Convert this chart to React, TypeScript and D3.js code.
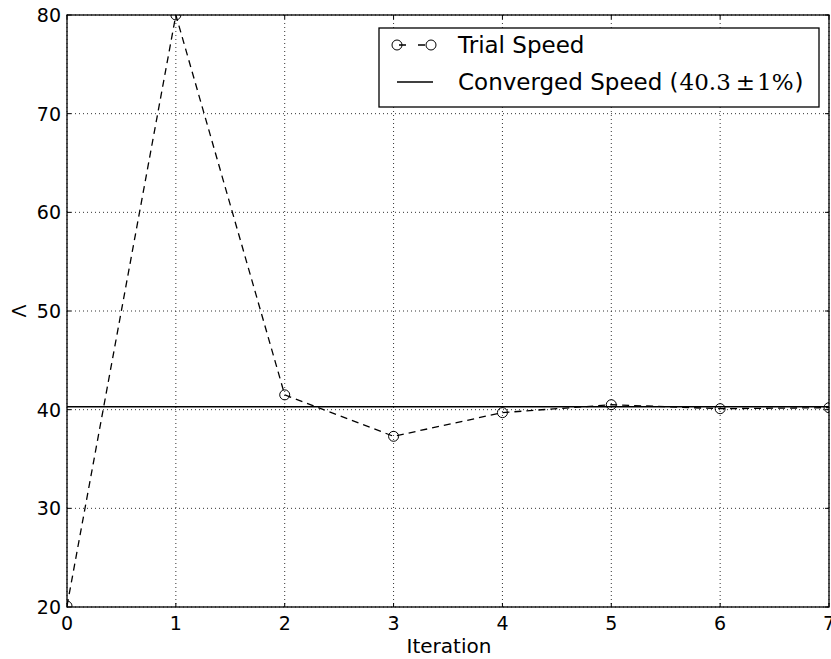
import React from "react";
import * as d3 from "d3";

const iterations = [0, 1, 2, 3, 4, 5, 6, 7];
const trialSpeed = [20.1, 80.0, 41.5, 37.3, 39.7, 40.5, 40.1, 40.2];
const convergedSpeed = 40.3;
const xTicks = [0, 1, 2, 3, 4, 5, 6, 7];
const yTicks = [20, 30, 40, 50, 60, 70, 80];

const W = 831;
const H = 659;
const M = { left: 67, right: 829, top: 15, bottom: 607 };

export default function App() {
  const x = d3.scaleLinear().domain([0, 7]).range([M.left, M.right]);
  const y = d3.scaleLinear().domain([20, 80]).range([M.bottom, M.top]);
  const line = d3
    .line<number>()
    .x((_, i) => x(iterations[i]))
    .y((d) => y(d));
  const font = "DejaVu Sans, sans-serif";
  const tickLen = 4;
  const lx = 379, ly = 28, lw = 440, lh = 79;

  return (
    <svg
      width={W}
      height={H}
      style={{ position: "absolute", left: 0, top: 0, background: "#fff" }}
      fontFamily={font}
    >
      <defs>
        <clipPath id="plot">
          <rect x={M.left} y={M.top} width={M.right - M.left} height={M.bottom - M.top} />
        </clipPath>
      </defs>
      <rect x={0} y={0} width={W} height={H} fill="#fff" />
      {/* grid */}
      <g stroke="#333" strokeWidth={1} strokeDasharray="1,3">
        {xTicks.map((t) => (
          <line key={"gx" + t} x1={x(t)} x2={x(t)} y1={M.top} y2={M.bottom} />
        ))}
        {yTicks.map((t) => (
          <line key={"gy" + t} x1={M.left} x2={M.right} y1={y(t)} y2={y(t)} />
        ))}
      </g>
      <g clipPath="url(#plot)">
        <line
          x1={M.left}
          x2={M.right}
          y1={y(convergedSpeed)}
          y2={y(convergedSpeed)}
          stroke="#000"
          strokeWidth={1.5}
        />
        <path
          d={line(trialSpeed) || ""}
          fill="none"
          stroke="#000"
          strokeWidth={1.3}
          strokeDasharray="7,5"
        />
        {trialSpeed.map((v, i) => (
          <circle
            key={i}
            cx={x(iterations[i])}
            cy={y(v)}
            r={5}
            fill="none"
            stroke="#000"
            strokeWidth={1}
          />
        ))}
      </g>
      {/* ticks */}
      <g stroke="#000" strokeWidth={1}>
        {xTicks.map((t) => (
          <g key={"tx" + t}>
            <line x1={x(t)} x2={x(t)} y1={M.bottom} y2={M.bottom - tickLen} />
            <line x1={x(t)} x2={x(t)} y1={M.top} y2={M.top + tickLen} />
          </g>
        ))}
        {yTicks.map((t) => (
          <g key={"ty" + t}>
            <line x1={M.left} x2={M.left + tickLen} y1={y(t)} y2={y(t)} />
            <line x1={M.right} x2={M.right - tickLen} y1={y(t)} y2={y(t)} />
          </g>
        ))}
      </g>
      <rect
        x={M.left}
        y={M.top}
        width={M.right - M.left}
        height={M.bottom - M.top}
        fill="none"
        stroke="#000"
        strokeWidth={1.3}
      />
      {/* tick labels */}
      {xTicks.map((t) => (
        <text key={"lx" + t} x={x(t)} y={M.bottom + 23} fontSize={19} textAnchor="middle">
          {t}
        </text>
      ))}
      {yTicks.map((t) => (
        <text key={"ly" + t} x={M.left - 6} y={y(t) + 7} fontSize={19} textAnchor="end">
          {t}
        </text>
      ))}
      <text x={449} y={653} fontSize={20} textAnchor="middle">
        Iteration
      </text>
      <text
        transform={`translate(26, ${(M.top + M.bottom) / 2}) rotate(-90)`}
        fontSize={19}
        textAnchor="middle"
      >
        Λ
      </text>
      {/* legend */}
      <rect x={lx} y={ly} width={lw} height={lh} fill="#fff" stroke="#000" strokeWidth={1.3} />
      <line x1={397} x2={431} y1={45} y2={45} stroke="#000" strokeWidth={1.3} strokeDasharray="7,12" strokeDashoffset={-2} />
      <circle cx={397} cy={45} r={5} fill="none" stroke="#000" strokeWidth={1} />
      <circle cx={431} cy={45} r={5} fill="none" stroke="#000" strokeWidth={1} />
      <line x1={397} x2={433} y1={82} y2={82} stroke="#000" strokeWidth={1.5} />
      <text x={458} y={53} fontSize={23}>
        Trial Speed
      </text>
      <text x={458} y={90} fontSize={23}>
        Converged Speed (
        <tspan fontFamily="DejaVu Serif, serif" fontSize={23} dx={1}>40.3</tspan>
        <tspan fontFamily="DejaVu Serif, serif" fontSize={23} dx={5}>±</tspan>
        <tspan fontFamily="DejaVu Serif, serif" fontSize={23} dx={2}>1%</tspan>
        <tspan dx={1}>)</tspan>
      </text>
    </svg>
  );
}
